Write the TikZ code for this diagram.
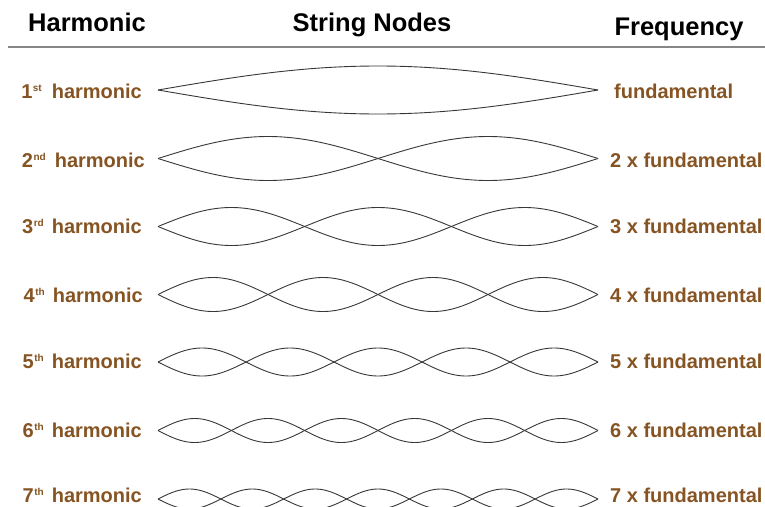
\documentclass[tikz,border=0pt]{standalone}
\usepackage{fontspec}
\setmainfont{Liberation Sans}
\definecolor{labelbrown}{RGB}{134,84,34}
\definecolor{rulegray}{RGB}{135,135,135}
\definecolor{wavegray}{RGB}{55,55,55}
\newcommand{\ordsup}[1]{\hspace{0.5pt}\raisebox{7pt}{\fontsize{10}{10}\selectfont #1}}
\tikzset{
  head/.style={font=\fontsize{25.5}{28}\selectfont\bfseries, text=black, inner sep=0pt, anchor=base},
  harm/.style={font=\fontsize{20}{22}\selectfont\bfseries, text=labelbrown, inner sep=0pt, anchor=base east},
  freq/.style={font=\fontsize{20}{22}\selectfont\bfseries, text=labelbrown, inner sep=0pt, anchor=base west},
  wave/.style={draw=wavegray, line width=0.9pt, line join=round}
}
\begin{document}
\begin{tikzpicture}[x=1pt, y=-1pt]
\useasboundingbox (0,0) rectangle (765,506);

% column headings and rule
\node[head] (hHarm) at (87,31) {Harmonic};
\node[head] (hNodes) at (372,31) {String Nodes};
\node[head] (hFreq) at (679,35) {Frequency};
\draw[rulegray, line width=2pt] (8,47) -- (765,47);

% standing waves: n loops between x=158 and x=598 (440 units long)
\foreach \n/\cy/\amp in {1/90/24, 2/158.5/22, 3/226.5/19, 4/294.5/17, 5/362/14, 6/430.5/12, 7/499/10}{
  \pgfmathsetmacro{\k}{\n*180/440}
  \draw[wave] plot[domain=0:440, samples=200, smooth] ({158+\x},{\cy-\amp*sin(\k*\x)});
  \draw[wave] plot[domain=0:440, samples=200, smooth] ({158+\x},{\cy+\amp*sin(\k*\x)});
}

% harmonic labels
\node[harm] (l1) at (142,98)  {1\ordsup{st}\hspace{10pt}harmonic};
\node[harm] (l2) at (145,167) {2\ordsup{nd}\hspace{9pt}harmonic};
\node[harm] (l3) at (142,233) {3\ordsup{rd}\hspace{8pt}harmonic};
\node[harm] (l4) at (143,302) {4\ordsup{th}\hspace{8pt}harmonic};
\node[harm] (l5) at (142,368) {5\ordsup{th}\hspace{8pt}harmonic};
\node[harm] (l6) at (142,437) {6\ordsup{th}\hspace{8pt}harmonic};
\node[harm] (l7) at (142,502) {7\ordsup{th}\hspace{8pt}harmonic};

% frequency labels
\node[freq] (f1) at (614,98)  {fundamental};
\node[freq] (f2) at (610,167) {2 x fundamental};
\node[freq] (f3) at (610,233) {3 x fundamental};
\node[freq] (f4) at (610,302) {4 x fundamental};
\node[freq] (f5) at (610,368) {5 x fundamental};
\node[freq] (f6) at (610,437) {6 x fundamental};
\node[freq] (f7) at (610,502) {7 x fundamental};
\end{tikzpicture}
\end{document}
